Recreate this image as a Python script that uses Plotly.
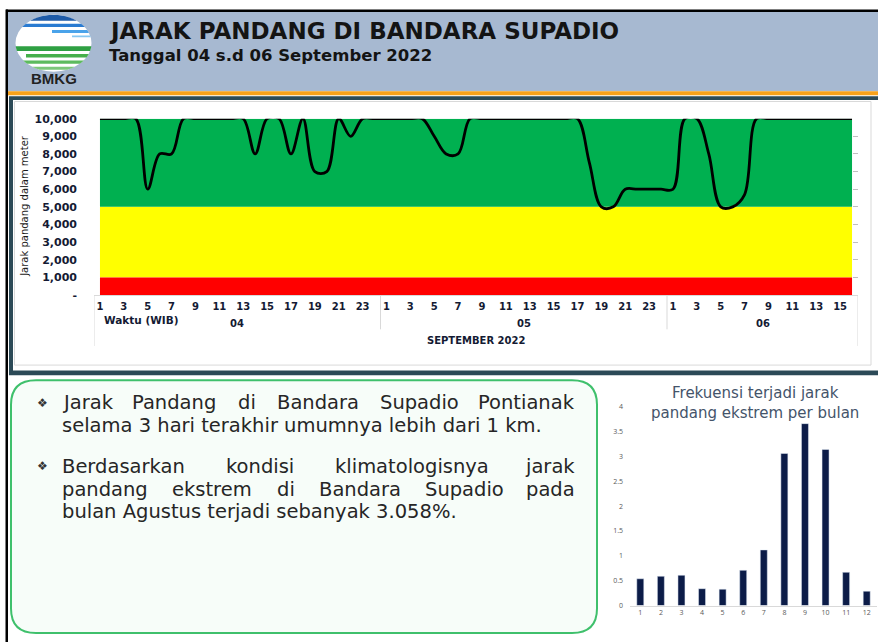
import numpy as np
import plotly.graph_objects as go

W, H = 878, 642

# ---------------- data ----------------
days = ["04", "05", "06"]
hours_04 = list(range(1, 25))
hours_05 = list(range(1, 25))
hours_06 = list(range(1, 17))
vis_04 = [10000, 10000, 10000, 10000, 6000, 8000, 8000, 10000, 10000, 10000, 10000, 10000,
          10000, 8000, 10000, 10000, 8000, 10000, 7000, 7000, 10000, 9000, 10000, 10000]
vis_05 = [10000, 10000, 10000, 10000, 9000, 8000, 8000, 10000, 10000, 10000, 10000, 10000,
          10000, 10000, 10000, 10000, 10000, 7500, 5000, 5000, 6000, 6000, 6000, 6000]
vis_06 = [6000, 10000, 10000, 8000, 5000, 5000, 5700, 10000, 10000, 10000, 10000, 10000,
          10000, 10000, 10000, 10000]
month_label = "SEPTEMBER 2022"
x_title = "Waktu (WIB)"
y_title = "Jarak pandang dalam meter"
band_low = [0, 1000, 5000]
band_high = [1000, 5000, 10000]
band_colors = ["#FF0000", "#FFFF00", "#00B050"]
y_tickvals = [0, 1000, 2000, 3000, 4000, 5000, 6000, 7000, 8000, 9000, 10000]
y_ticktext = ["-", "1,000", "2,000", "3,000", "4,000", "5,000", "6,000", "7,000",
              "8,000", "9,000", "10,000"]

months = [1, 2, 3, 4, 5, 6, 7, 8, 9, 10, 11, 12]
freq = [0.54, 0.59, 0.61, 0.34, 0.33, 0.71, 1.12, 3.06, 3.66, 3.14, 0.67, 0.29]
freq_title = "Frekuensi terjadi jarak<br>pandang ekstrem per bulan"

title = "JARAK PANDANG DI BANDARA SUPADIO"
subtitle = "Tanggal 04 s.d 06 September 2022"
para1 = [("Jarak Pandang di Bandara Supadio Pontianak", True),
         ("selama 3 hari terakhir umumnya lebih dari 1 km.", False)]
para2 = [("Berdasarkan kondisi klimatologisnya jarak", True),
         ("pandang ekstrem di Bandara Supadio pada", True),
         ("bulan Agustus terjadi sebanyak 3.058%.", False)]

# ---------------- helpers ----------------
def px(x):
    return x / W


def py(y):
    return 1 - y / H


hours_all = hours_04 + hours_05 + hours_06
vis_all = vis_04 + vis_05 + vis_06
day_lengths = [len(hours_04), len(hours_05), len(hours_06)]
idx = list(range(len(hours_all)))
x_lo, x_hi = -0.5, len(idx) - 0.5

fig = go.Figure()

# bands
for k, (lo, hi, col) in enumerate(zip(band_low, band_high, band_colors)):
    fig.add_trace(go.Scatter(
        x=[idx[0], idx[-1], idx[-1], idx[0]], y=[lo, lo, hi, hi],
        fill="toself", fillcolor=col, mode="lines", line=dict(width=0),
        hoverinfo="skip", showlegend=False,
        xaxis="x", yaxis="y3" if k == 0 else "y"))

# visibility line
fig.add_trace(go.Scatter(
    x=idx, y=vis_all, mode="lines",
    line=dict(color="black", width=2.8, shape="spline", smoothing=1.0),
    cliponaxis=False, showlegend=False, xaxis="x", yaxis="y"))

# frequency bars
fig.add_trace(go.Bar(x=months, y=freq, marker_color="#0C1C48", xaxis="x2", yaxis="y2",
                     showlegend=False))

tick_font = dict(family="DejaVu Sans", size=10, color="#141a33", weight="bold")

fig.update_layout(
    width=W, height=H, margin=dict(l=0, r=0, t=0, b=0),
    paper_bgcolor="white", plot_bgcolor="rgba(0,0,0,0)",
    bargap=0.66,
    xaxis=dict(domain=[px(94), px(858)], range=[x_lo, x_hi],
               tickvals=[i for i, h in zip(idx, hours_all) if h % 2 == 1],
               ticktext=[str(h) for h in hours_all if h % 2 == 1],
               showgrid=False, zeroline=False, showline=True, linecolor="#D9D9D9",
               linewidth=1, ticks="", tickangle=0, tickfont=tick_font,
               ticklabelstandoff=2, anchor="y"),
    yaxis=dict(domain=[py(295), py(115)], range=[0, 10000],
               tickvals=y_tickvals, ticktext=y_ticktext,
               showgrid=False, zeroline=False, showline=False, ticks="",
               tickfont=dict(family="DejaVu Sans", size=11, color="#141a33", weight="bold"),
               ticklabelstandoff=16, anchor="x"),
    yaxis3=dict(overlaying="y", side="right", range=[0, 10000], tickvals=y_tickvals,
                showticklabels=False, ticks="inside", ticklen=5, tickcolor="#BFBFBF",
                showgrid=False, zeroline=False, showline=False, anchor="x"),
    xaxis2=dict(domain=[px(630), px(877)], range=[0.5, 12.5], tickvals=months,
                showgrid=False, zeroline=False, showline=True, linecolor="#D9D9D9",
                ticks="", tickfont=dict(family="Open Sans", size=7, color="#595959"),
                anchor="y2"),
    yaxis2=dict(domain=[py(612), py(409)], range=[0, 4], dtick=0.5,
                showgrid=False, zeroline=False, showline=False, ticks="",
                tickfont=dict(family="Open Sans", size=7, color="#595959"),
                ticklabelstandoff=6, anchor="x2"),
)

shapes = []


def rect(x0, y0, x1, y1, fill, line=None, lw=0):
    shapes.append(dict(type="rect", xref="paper", yref="paper", x0=px(x0), x1=px(x1),
                       y0=py(y1), y1=py(y0), fillcolor=fill,
                       line=dict(width=lw, color=line or fill), layer="below"))


# header
rect(7, 4, 900, 87, "#A7B9D1")
rect(6, 3.5, 900, 6, "#000000")
rect(8, 87, 900, 91, "#F7A11A")
# chart panel
rect(9, 92, 950, 377, "#2C4A57")
rect(13, 96, 950, 372, "#FFFFFF")
rect(14.5, 97.5, 871, 366.5, "#FFFFFF", line="#D9D9D9", lw=1)
# left page border
rect(5.5, 3.5, 8, 660, "#000000")

# rounded text box
bx0, by0, bx1, by1, r = 11, 382, 597, 640, 25
path = (f"M {px(bx0 + r)} {py(by0)} L {px(bx1 - r)} {py(by0)} "
        f"Q {px(bx1)} {py(by0)} {px(bx1)} {py(by0 + r)} L {px(bx1)} {py(by1 - r)} "
        f"Q {px(bx1)} {py(by1)} {px(bx1 - r)} {py(by1)} L {px(bx0 + r)} {py(by1)} "
        f"Q {px(bx0)} {py(by1)} {px(bx0)} {py(by1 - r)} L {px(bx0)} {py(by0 + r)} "
        f"Q {px(bx0)} {py(by0)} {px(bx0 + r)} {py(by0)} Z")
shapes.append(dict(type="path", xref="paper", yref="paper", path=path,
                   fillcolor="#F7FDF9", line=dict(color="#3FC06C", width=2), layer="below"))

# separators on category axis
bounds = np.cumsum([0] + day_lengths) - 0.5
for k, b in enumerate(bounds):
    outer = k == 0 or k == len(bounds) - 1
    shapes.append(dict(type="line", xref="x", yref="paper", x0=b, x1=b,
                       y0=py(295), y1=py(347 if outer else 330),
                       line=dict(color="#D9D9D9", width=1)))

# logo
lcx, lcy, lrx, lry = 53.5, 38, 38, 29
shapes.append(dict(type="circle", xref="paper", yref="paper", x0=px(lcx - lrx), x1=px(lcx + lrx),
                   y0=py(lcy + lry), y1=py(lcy - lry), fillcolor="white",
                   line=dict(width=0), layer="above"))


def band(ya, yb, col, xmin=None, xmax=None):
    ys = np.linspace(ya, yb, 10)
    half = lrx * np.sqrt(np.clip(1 - ((ys - lcy) / lry) ** 2, 0, 1))
    left = lcx - half
    right = lcx + half
    if xmin is not None:
        left = np.maximum(left, xmin)
    if xmax is not None:
        right = np.minimum(right, xmax)
    pts = list(zip(left, ys)) + list(zip(right[::-1], ys[::-1]))
    p = "M " + " L ".join(f"{px(a):.5f} {py(b):.5f}" for a, b in pts) + " Z"
    shapes.append(dict(type="path", xref="paper", yref="paper", path=p, fillcolor=col,
                       line=dict(width=0), layer="above"))


band(9.2, 15, "#1E5BA8")
band(18, 21.5, "#2A7BD1")
band(24.5, 27.5, "#4AA3EA", xmin=52)
band(30, 32, "#86C8F2", xmin=72)
band(41, 46, "#2FA043")
band(49, 52.5, "#45AF4B", xmin=26)
band(55.5, 59, "#5DBB5E")
band(62, 65, "#7CC77A", xmin=30)

fig.update_layout(shapes=shapes)

ann = []


def text(x, y, s, size, color="#1a1a1a", family="Open Sans", weight="normal",
         xanchor="center", xref="paper", angle=0):
    ann.append(dict(x=px(x) if xref == "paper" else x, y=py(y), xref=xref, yref="paper",
                    text=s, showarrow=False, xanchor=xanchor, yanchor="middle",
                    textangle=angle, borderpad=0,
                    font=dict(family=family, size=size, color=color, weight=weight)))


text(108, 26, title, 23, "#141414", "DejaVu Sans", "bold", "left")
text(108, 50.5, subtitle, 16.5, "#141414", "DejaVu Sans", "bold", "left")
text(53.5, 74, "BMKG", 15, "#222222", "Liberation Sans", "bold")

# chart texts
text(25, 204, y_title, 10, "#1a1a1a", "DejaVu Sans", "normal", angle=-90)
ann.append(dict(x=idx[0], y=py(320), xref="x", yref="paper", text=x_title, showarrow=False,
                xanchor="left", yanchor="middle", xshift=2,
                font=dict(family="DejaVu Sans", size=10.5, color="#141a33", weight="bold")))
start = 0
for d, n in zip(days, day_lengths):
    ann.append(dict(x=(start + start + n - 1) / 2, y=py(324), xref="x", yref="paper", text=d,
                    showarrow=False, xanchor="center", yanchor="middle",
                    font=dict(family="DejaVu Sans", size=10, color="#141a33", weight="bold")))
    start += n
ann.append(dict(x=(x_lo + x_hi) / 2, y=py(341), xref="x", yref="paper", text=month_label,
                showarrow=False, xanchor="center", yanchor="middle",
                font=dict(family="DejaVu Sans", size=10, color="#141a33", weight="bold")))

# bar chart title
text(755, 405, freq_title, 15, "#44546A", "DejaVu Sans")

# paragraph text with justification (DejaVu Sans advance widths, units/2048)
DV = {' ': 651, 'a': 1255, 'b': 1300, 'c': 1126, 'd': 1300, 'e': 1260, 'f': 721, 'g': 1300,
      'h': 1298, 'i': 569, 'j': 569, 'k': 1186, 'l': 569, 'm': 1995, 'n': 1298, 'o': 1253,
      'p': 1300, 'q': 1300, 'r': 842, 's': 1067, 't': 803, 'u': 1298, 'v': 1212, 'w': 1675,
      'x': 1212, 'y': 1212, 'z': 1075, 'A': 1401, 'B': 1405, 'J': 604, 'P': 1235, 'S': 1300,
      '.': 651, '%': 1946}


def est(word, size):
    return sum(DV.get(c, 1303) for c in word) / 2048 * size


FS = 19.5
FF = "DejaVu Sans"
TXT = "#262626"
LEFT, RIGHT = 61, 576


def line(s, y, justify):
    words = s.split()
    if not justify:
        text(LEFT, y, s, FS, TXT, FF, xanchor="left")
        return
    widths = [est(w, FS) for w in words]
    gap = (RIGHT - LEFT - sum(widths)) / (len(words) - 1)
    x = LEFT
    for i, w in enumerate(words):
        if i == len(words) - 1:
            text(RIGHT, y, w, FS, TXT, FF, xanchor="right")
        else:
            text(x, y, w, FS, TXT, FF, xanchor="left")
        x += widths[i] + gap


y0s = [405, 470]
for para, ystart in zip([para1, para2], y0s):
    text(42, ystart, "\u2756", 12, "#333333", "DejaVu Sans")
    for j, (s, just) in enumerate(para):
        line(s, ystart + 23 * j, just)

fig.update_layout(annotations=ann)
fig.write_html(
    "out.html",
    config={"displayModeBar": False},
    post_script=("document.body.style.margin='0';document.body.style.padding='0';"
                 "document.body.style.overflow='hidden';"
                 "document.documentElement.style.overflow='hidden';"),
)
